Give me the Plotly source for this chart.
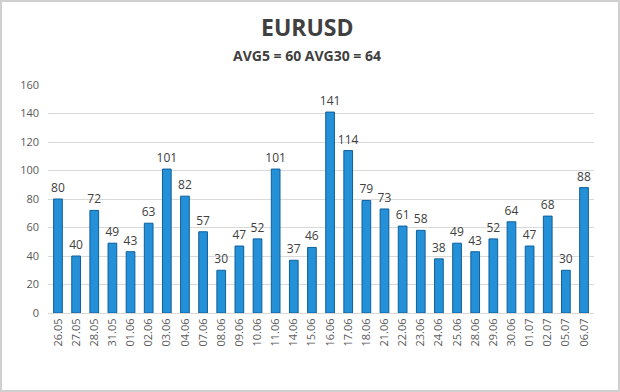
import plotly.graph_objects as go

dates = ["26.05", "27.05", "28.05", "31.05", "01.06", "02.06", "03.06", "04.06",
         "07.06", "08.06", "09.06", "10.06", "11.06", "14.06", "15.06", "16.06",
         "17.06", "18.06", "21.06", "22.06", "23.06", "24.06", "25.06", "28.06",
         "29.06", "30.06", "01.07", "02.07", "05.07", "06.07"]
values = [80, 40, 72, 49, 43, 63, 101, 82, 57, 30, 47, 52, 101, 37, 46, 141,
          114, 79, 73, 61, 58, 38, 49, 43, 52, 64, 47, 68, 30, 88]
y_ticks = [0, 20, 40, 60, 80, 100, 120, 140, 160]
title = "EURUSD"
subtitle = "AVG5 = 60 AVG30 = 64"

W, H = 620, 392
ml, mr, mt, mb = 48, 26, 85, 79
pw, ph = W - ml - mr, H - mt - mb
cx = (307 - ml) / pw

fig = go.Figure()
fig.add_trace(go.Bar(
    x=dates, y=values,
    marker=dict(color="#2490d8", line=dict(color="#0e5f9c", width=1)),
    text=[str(v) for v in values], textposition="outside",
    constraintext="none",
    textfont=dict(family="Open Sans, Noto Sans, sans-serif", size=12, color="#404040"),
    cliponaxis=False,
))

fig.update_layout(
    width=W, height=H,
    margin=dict(l=ml, r=mr, t=mt, b=mb),
    paper_bgcolor="white", plot_bgcolor="white",
    bargap=0.52, showlegend=False,
    font=dict(family="Open Sans, Noto Sans, sans-serif", color="#595959"),
    annotations=[
        dict(text="<b>" + title + "</b>", x=cx, y=27, xref="paper", yref="paper",
             yanchor="middle", xanchor="center",
             showarrow=False, font=dict(size=23, color="#404040")),
        dict(text="<b>" + subtitle + "</b>", x=cx, y=55, xref="paper", yref="paper",
             yanchor="middle", xanchor="center",
             showarrow=False, font=dict(size=14, color="#404040")),
    ],
    shapes=[dict(type="rect", xref="paper", yref="paper",
                 x0=-(ml - 1) / pw, x1=1 + (mr - 1) / pw,
                 y0=-(mb - 1) / ph, y1=1 + (mt - 1) / ph,
                 line=dict(color="#d0d0d0", width=2))],
)
# convert annotation pixel y positions to paper coordinates
for a in fig.layout.annotations:
    a.y = 1 + (mt - a.y) / ph

fig.update_xaxes(
    tickangle=-90, tickfont=dict(size=11, color="#595959"),
    showline=True, linecolor="#d9d9d9", linewidth=1, ticks="",
    showgrid=False, range=[-0.55, 29.55],
)
fig.update_yaxes(
    range=[0, 160], tickvals=y_ticks, showgrid=True, gridcolor="#d9d9d9",
    gridwidth=1, zeroline=False, tickfont=dict(size=11, color="#595959"),
    ticks="", ticklabelstandoff=8,
)

fig.write_html("out.html", config={"displayModeBar": False},
               post_script="document.body.style.margin='0';")
